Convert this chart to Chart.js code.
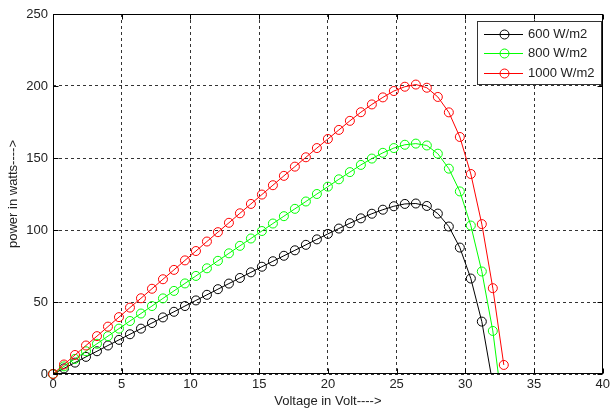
<!DOCTYPE html>
<html>
<head>
<meta charset="utf-8">
<script src="https://cdn.jsdelivr.net/npm/chart.js@4/dist/chart.umd.min.js"></script>
<style>
  body { margin: 0; background: #fff; }
  #pv { display: block; }
</style>
</head>
<body>
<canvas id="pv" width="613" height="412"></canvas>
<script>
// P-V characteristic of the module at three irradiance levels
const voltage = [0, 0.8, 1.6, 2.4, 3.2, 4.0, 4.8, 5.6, 6.4, 7.2, 8.0, 8.8, 9.6, 10.4, 11.2, 12.0,
  12.8, 13.6, 14.4, 15.2, 16.0, 16.8, 17.6, 18.4, 19.2, 20.0, 20.8, 21.6, 22.4, 23.2, 24.0,
  24.8, 25.6, 26.4, 27.2, 28.0, 28.8, 29.6, 30.4, 31.2, 32.0, 32.8];

const p600 = [0, 3.9, 7.9, 11.9, 15.8, 19.8, 23.7, 27.6, 31.5, 35.4, 39.3, 43.2, 47.2, 51.1, 55.0,
  58.9, 62.8, 66.7, 70.6, 74.5, 78.3, 82.1, 85.9, 89.7, 93.5, 97.3, 101.0, 104.7, 108.1, 111.3,
  114.1, 116.5, 118.1, 118.4, 116.7, 111.4, 102.4, 87.8, 66.3, 36.4, -7];

const p800 = [0, 5.3, 10.5, 15.8, 21.0, 26.3, 31.5, 36.8, 42.0, 47.2, 52.5, 57.7, 62.9, 68.1, 73.4,
  78.6, 83.8, 89.0, 94.1, 99.3, 104.5, 109.6, 114.7, 119.8, 125.0, 130.1, 135.2, 140.2, 145.2,
  149.6, 153.6, 156.9, 159.2, 160.0, 158.7, 153.0, 142.6, 126.8, 103.1, 71.2, 29.9, -30];

const p1000 = [0, 6.6, 13.2, 19.8, 26.3, 32.9, 39.5, 46.1, 52.6, 59.2, 65.8, 72.3, 78.9, 85.4, 92.0,
  98.5, 105.0, 111.6, 118.1, 124.6, 131.1, 137.6, 144.0, 150.5, 156.9, 163.2, 169.5, 175.8, 181.8,
  187.2, 192.1, 196.5, 199.5, 201.0, 198.8, 192.4, 181.7, 164.6, 138.9, 104.1, 59.6, 6.3];

const labels = ['600 W/m2', '800 W/m2', '1000 W/m2'];
const colors = ['#000000', '#00ff00', '#ff0000'];
const series = [p600, p800, p1000];

const textColor = '#222';
const font = { family: '"Liberation Sans", Arial, sans-serif', size: 13 };

function toPoints(p) {
  return p.map((y, i) => ({ x: voltage[i], y: y }));
}

const datasets = series.map((p, i) => ({
  label: labels[i],
  data: toPoints(p),
  borderColor: colors[i],
  borderWidth: 1,
  pointRadius: 4.5,
  pointHoverRadius: 4.5,
  pointBorderWidth: 1,
  pointBorderColor: colors[i],
  pointBackgroundColor: 'rgba(0,0,0,0)',
  tension: 0,
  order: series.length - i   // red on top
}));

// box, inward ticks, legend and the corner markers
const matlabFrame = {
  id: 'matlabFrame',
  afterDatasetsDraw(chart) {
    const ctx = chart.ctx;
    // markers at the origin are cut by the clip, draw them whole
    chart.data.datasets.forEach((ds, i) => {
      const pt = chart.getDatasetMeta(i).data[0];
      if (pt) pt.draw(ctx);
    });
  },
  afterDraw(chart) {
    const ctx = chart.ctx;
    const a = chart.chartArea;
    const x = chart.scales.x, y = chart.scales.y;
    const L = Math.round(a.left) + 0.5, R = Math.round(a.right) - 0.5;
    const T = Math.round(a.top) + 0.5, B = Math.round(a.bottom) - 0.5;

    ctx.save();
    ctx.strokeStyle = '#000';
    ctx.lineWidth = 1;
    ctx.strokeRect(L, T, R - L, B - T);

    ctx.beginPath();
    x.ticks.forEach(t => {
      const px = Math.round(x.getPixelForValue(t.value)) + 0.5;
      ctx.moveTo(px, B); ctx.lineTo(px, B - 5);
      ctx.moveTo(px, T); ctx.lineTo(px, T + 5);
    });
    y.ticks.forEach(t => {
      const py = Math.round(y.getPixelForValue(t.value)) + 0.5;
      ctx.moveTo(L, py); ctx.lineTo(L + 5, py);
      ctx.moveTo(R, py); ctx.lineTo(R - 5, py);
    });
    ctx.stroke();

    // legend
    const bx = 477.5, by = 21.5, bw = 124, bh = 63;
    ctx.fillStyle = '#fff';
    ctx.fillRect(bx, by, bw, bh);
    ctx.strokeStyle = '#333';
    ctx.strokeRect(bx, by, bw, bh);
    ctx.font = font.size + 'px ' + font.family;
    ctx.textBaseline = 'middle';
    chart.data.datasets.forEach((ds, i) => {
      const ry = Math.round(by + 12 + i * 19.5) + 0.5;
      ctx.strokeStyle = ds.borderColor;
      ctx.beginPath();
      ctx.moveTo(484, ry); ctx.lineTo(523, ry);
      ctx.stroke();
      ctx.beginPath();
      ctx.arc(504.5, ry, 4.5, 0, Math.PI * 2);
      ctx.stroke();
      ctx.fillStyle = textColor;
      ctx.fillText(ds.label, 528, ry);
    });
    ctx.restore();
  }
};

new Chart(document.getElementById('pv'), {
  type: 'line',
  data: { datasets: datasets },
  options: {
    responsive: false,
    animation: false,
    layout: { padding: { top: 14, right: 6, left: 0, bottom: 0 } },
    plugins: {
      legend: { display: false },
      tooltip: { enabled: false }
    },
    scales: {
      x: {
        type: 'linear',
        min: 0,
        max: 40,
        ticks: { stepSize: 5, color: textColor, font: font, padding: 3, maxRotation: 0 },
        grid: { color: '#333', drawTicks: false },
        border: { display: false, dash: [3, 3] },
        title: { display: true, text: 'Voltage in Volt---->', color: textColor, font: font, padding: { top: 2, bottom: 3 } },
        afterFit(scale) { scale.height = 38; }
      },
      y: {
        min: 0,
        max: 250,
        ticks: { stepSize: 50, color: textColor, font: font, padding: 5 },
        grid: { color: '#333', drawTicks: false },
        border: { display: false, dash: [3, 3] },
        title: { display: true, text: 'power in watts---->', color: textColor, font: font, padding: { top: 6, bottom: 2 } },
        afterFit(scale) { scale.width = 53; }
      }
    }
  },
  plugins: [matlabFrame]
});
</script>
</body>
</html>
